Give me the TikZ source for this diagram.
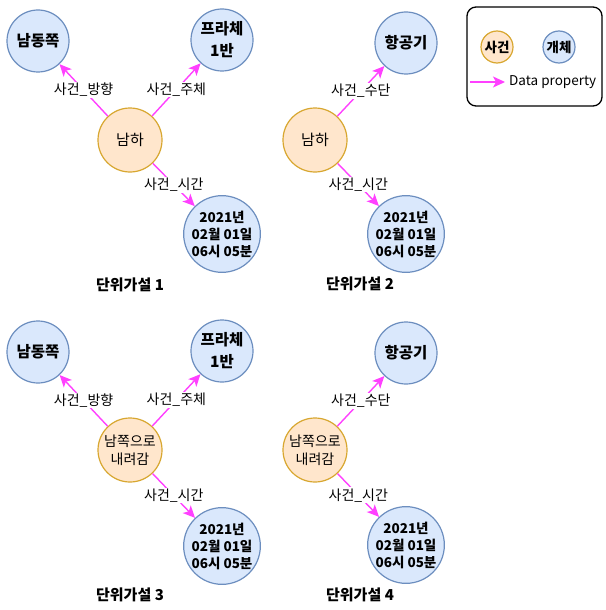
\documentclass[tikz,border=0pt]{standalone}
\usepackage{fontspec}
\setmainfont{Noto Sans CJK KR}
\usetikzlibrary{arrows.meta}
\definecolor{entf}{HTML}{DAE8FC}
\definecolor{entb}{HTML}{6C8EBF}
\definecolor{evtf}{HTML}{FFE6CC}
\definecolor{evtb}{HTML}{D8A730}
\definecolor{mag}{HTML}{FF40FF}
\tikzset{
  ent/.style={circle, draw=entb, fill=entf, line width=1.2pt, minimum size=62pt, inner sep=0pt, align=center, font=\bfseries\fontsize{15.5}{22}\selectfont},
  evt/.style={circle, draw=evtb, fill=evtf, line width=1.2pt, minimum size=64pt, inner sep=0pt, align=center, font=\fontsize{15}{18}\selectfont},
  datenode/.style={ent, font=\bfseries\fontsize{13.5}{17}\selectfont},
  prop/.style={draw=mag, line width=1.4pt, -{Stealth[length=12pt,width=11pt,inset=3pt]}},
  plab/.style={fill=white, inner sep=1pt, font=\fontsize{14}{16}\selectfont},
  hyplabel/.style={font=\bfseries\fontsize{15}{17}\selectfont},
  legcirc/.style={circle, line width=1.2pt, minimum size=32pt, inner sep=0pt, font=\bfseries\fontsize{13.5}{15}\selectfont}
}
\begin{document}
\begin{tikzpicture}[x=1pt,y=-1pt]
\useasboundingbox (0,0) rectangle (605,610);
% ---------- group 1 ----------
\node[ent] (d1) at (38,41) {남동쪽};
\node[ent] (s1) at (222,40) {프라체\\1반};
\node[evt] (e1) at (130,140) {남하};
\node[datenode] (t1) at (222,234) {2021년\\02월 01일\\06시 05분};
\draw[prop] (e1) -- node[plab]{사건\_방향} (d1);
\draw[prop] (e1) -- node[plab]{사건\_주체} (s1);
\draw[prop] (e1) -- node[plab]{사건\_시간} (t1);
\node[hyplabel] (h1) at (130,285) {단위가설 1};
% ---------- group 2 ----------
\node[ent] (a2) at (406,43) {항공기};
\node[evt] (e2) at (315,140) {남하};
\node[datenode] (t2) at (406,234) {2021년\\02월 01일\\06시 05분};
\draw[prop] (e2) -- node[plab]{사건\_수단} (a2);
\draw[prop] (e2) -- node[plab]{사건\_시간} (t2);
\node[hyplabel] (h2) at (360,284) {단위가설 2};
% ---------- group 3 ----------
\node[ent] (d3) at (38,352) {남동쪽};
\node[ent] (s3) at (222,351) {프라체\\1반};
\node[evt, font=\fontsize{14}{18}\selectfont] (e3) at (130,450) {남쪽으로\\내려감};
\node[datenode] (t3) at (222,546) {2021년\\02월 01일\\06시 05분};
\draw[prop] (e3) -- node[plab]{사건\_방향} (d3);
\draw[prop] (e3) -- node[plab]{사건\_주체} (s3);
\draw[prop] (e3) -- node[plab]{사건\_시간} (t3);
\node[hyplabel] (h3) at (130,595) {단위가설 3};
% ---------- group 4 ----------
\node[ent] (a4) at (406,353) {항공기};
\node[evt, font=\fontsize{14}{18}\selectfont] (e4) at (315,450) {남쪽으로\\내려감};
\node[datenode] (t4) at (406,545) {2021년\\02월 01일\\06시 05분};
\draw[prop] (e4) -- node[plab]{사건\_수단} (a4);
\draw[prop] (e4) -- node[plab]{사건\_시간} (t4);
\node[hyplabel] (h4) at (360,595) {단위가설 4};
% ---------- legend ----------
\node[draw, rounded corners=9pt, line width=1.3pt, minimum width=135pt, minimum height=99pt] (leg) at (534.5,56.5) {};
\node[legcirc, draw=evtb, fill=evtf] (lev) at (497,47) {사건};
\node[legcirc, draw=entb, fill=entf] (len) at (559,47) {개체};
\coordinate (la) at (470,82);
\coordinate (lb) at (505,82);
\draw[prop] (la) -- (lb);
\node[font=\fontsize{13.5}{15}\selectfont, anchor=west, inner sep=0pt] (ltext) at (509,82) {Data property};
\end{tikzpicture}
\end{document}
